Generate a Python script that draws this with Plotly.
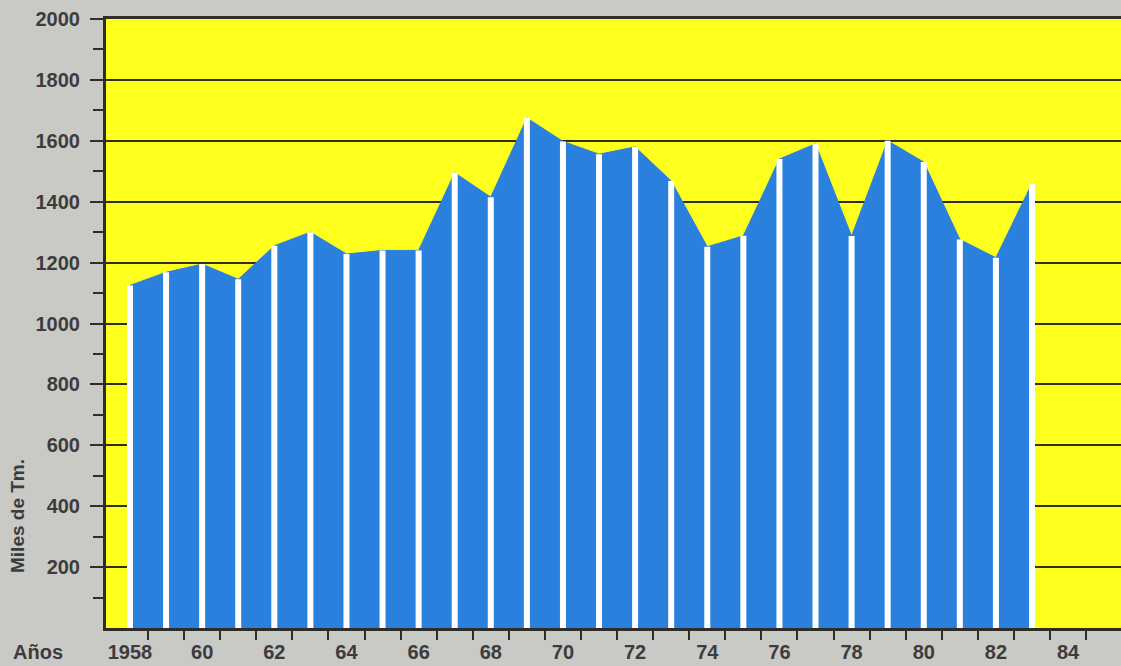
import plotly.graph_objects as go

# ---- data ----
years = list(range(1958, 1984))
values = [1125, 1168, 1195, 1145, 1255, 1300, 1228, 1240, 1240, 1495,
          1415, 1675, 1598, 1556, 1580, 1468, 1252, 1288, 1540, 1590,
          1287, 1600, 1530, 1276, 1216, 1460]
x_label_years = list(range(1958, 1986, 2))
x_label_text = ["1958"] + [str(y)[2:] for y in x_label_years[1:]]
y_tick_vals = list(range(200, 2001, 200))
y_tick_text = [str(v) for v in y_tick_vals]

BLUE = "#2a80dc"
YELLOW = "#ffff1e"
GREY = "#c9c9c6"
DARK = "#2e2e26"
TEXT = "#3c3c3c"
FONT = "Liberation Sans"

fig = go.Figure()

# blue area
fig.add_trace(go.Scatter(
    x=years, y=values, mode="lines", fill="tozeroy",
    fillcolor=BLUE, line=dict(color=BLUE, width=1),
    hoverinfo="skip", showlegend=False))

# white vertical year lines
lx, ly = [], []
for yr, v in zip(years, values):
    lx += [yr, yr, None]
    ly += [0, v, None]
fig.add_trace(go.Scatter(
    x=lx, y=ly, mode="lines", line=dict(color="white", width=6),
    hoverinfo="skip", showlegend=False))

minor_x = [y + 0.5 for y in range(1958, 1985)]
minor_y = list(range(100, 2000, 200))

fig.update_layout(
    width=1121, height=666,
    paper_bgcolor=GREY, plot_bgcolor=YELLOW,
    margin=dict(l=106, r=0, t=19, b=38),
    showlegend=False,
    font=dict(family=FONT, color=TEXT, size=20, weight="bold"),
    xaxis=dict(
        range=[1957.335, 1985.467],
        tickmode="array", tickvals=x_label_years, ticktext=x_label_text,
        ticks="", showgrid=False, zeroline=False,
        showline=True, linecolor=DARK, linewidth=3, mirror=True,
        tickfont=dict(family=FONT, size=20, color=TEXT, weight="bold"),
        ticklabelstandoff=4,
        minor=dict(tickmode="array", tickvals=minor_x, ticks="outside",
                   ticklen=9, tickwidth=2, tickcolor=DARK, showgrid=False),
    ),
    yaxis=dict(
        range=[0, 2000],
        tickmode="array", tickvals=y_tick_vals, ticktext=y_tick_text,
        ticks="outside", ticklen=13, tickwidth=2, tickcolor=DARK,
        showgrid=True, gridcolor=DARK, gridwidth=2,
        zeroline=False, showline=True, linecolor=DARK, linewidth=3,
        tickfont=dict(family=FONT, size=20, color=TEXT, weight="bold"),
        ticklabelstandoff=6,
        minor=dict(tickmode="array", tickvals=minor_y, ticks="outside",
                   ticklen=10, tickwidth=2, tickcolor=DARK, showgrid=False),
    ),
    annotations=[
        dict(text="Años", xref="paper", yref="paper",
             x=(38 - 106) / 1015, y=(628 - 652) / 609,
             xanchor="center", yanchor="middle", showarrow=False,
             font=dict(family=FONT, size=20, color=TEXT, weight="bold")),
        dict(text="Miles de Tm.", xref="paper", yref="paper",
             x=(17 - 106) / 1015, y=(628 - 516) / 609, textangle=-90,
             xanchor="center", yanchor="middle", showarrow=False,
             font=dict(family=FONT, size=19, color=TEXT, weight="bold")),
    ],
)

fig.write_html(
    "out.html",
    config={"displayModeBar": False},
    post_script="document.body.style.margin='0';document.body.style.overflow='hidden';",
)
